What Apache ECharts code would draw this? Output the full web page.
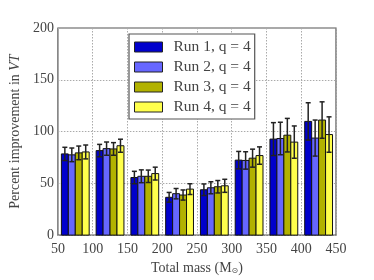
<!DOCTYPE html>
<html>
<head>
<meta charset="utf-8">
<script src="https://cdn.jsdelivr.net/npm/echarts@6/dist/echarts.min.js"></script>
<style>html,body{margin:0;padding:0;background:#fff}#c{width:374px;height:280px}</style>
</head>
<body>
<div id="c"></div>
<script>
var groupCenters = [75, 125, 175, 225, 275, 325, 375, 425];
var seriesNames = ['Run 1, q = 4', 'Run 2, q = 4', 'Run 3, q = 4', 'Run 4, q = 4'];
var colors = ['#0000cc', '#6666ff', '#b2b200', '#ffff4c'];
var barOffsets = [-15, -5, 5, 15];
var barWidthUnits = 10;
var run1 = [78.4, 81.6, 55.6, 36.5, 43.8, 72.4, 92.7, 109.8];
var run2 = [77.5, 83.5, 56.8, 40.0, 45.7, 72.1, 93.3, 93.7];
var run3 = [79.4, 83.2, 56.8, 38.7, 46.7, 74.3, 96.5, 111.1];
var run4 = [80.3, 86.3, 59.4, 44.4, 47.6, 76.8, 89.8, 97.1];
var err1 = [6.4, 6.0, 6.0, 4.7, 5.6, 8.4, 15.9, 18.0];
var err2 = [6.6, 6.4, 6.2, 5.0, 5.8, 8.4, 15.7, 17.4];
var err3 = [6.6, 6.1, 6.0, 4.9, 6.0, 8.7, 16.2, 17.6];
var err4 = [6.7, 6.3, 6.2, 5.2, 6.3, 8.4, 15.6, 17.1];
var xTicks = [50, 100, 150, 200, 250, 300, 350, 400, 450];
var yTicks = [0, 50, 100, 150, 200];

var runs = [run1, run2, run3, run4];
var errs = [err1, err2, err3, err4];
var font = '"Liberation Serif", "DejaVu Serif", serif';
var textColor = '#444';

function makeSeries(k) {
  var data = groupCenters.map(function (c, i) {
    return [c + barOffsets[k], runs[k][i], errs[k][i]];
  });
  return {
    name: seriesNames[k],
    type: 'custom',
    itemStyle: { color: colors[k], borderColor: '#111', borderWidth: 1 },
    data: data,
    renderItem: function (params, api) {
      var x = api.value(0), y = api.value(1), e = api.value(2);
      var p0 = api.coord([x - barWidthUnits / 2, 0]);
      var p1 = api.coord([x + barWidthUnits / 2, y]);
      var pt = api.coord([x, y + e]);
      var pb = api.coord([x, y - e]);
      var cap = 2.5;
      return {
        type: 'group',
        children: [
          { type: 'rect', shape: { x: p0[0], y: p1[1], width: p1[0] - p0[0], height: p0[1] - p1[1] },
            style: { fill: colors[k], stroke: '#111', lineWidth: 1 } },
          { type: 'line', shape: { x1: pt[0], y1: pt[1], x2: pb[0], y2: pb[1] }, style: { stroke: '#222', lineWidth: 1.5 } },
          { type: 'line', shape: { x1: pt[0] - cap, y1: pt[1], x2: pt[0] + cap, y2: pt[1] }, style: { stroke: '#222', lineWidth: 1.5 } },
          { type: 'line', shape: { x1: pb[0] - cap, y1: pb[1], x2: pb[0] + cap, y2: pb[1] }, style: { stroke: '#222', lineWidth: 1.5 } }
        ]
      };
    }
  };
}

var chart = echarts.init(document.getElementById('c'), null, { renderer: 'canvas' });
chart.setOption({
  animation: false,
  backgroundColor: '#fff',
  grid: { left: 47, right: 38, top: 28, bottom: 42, show: true, borderColor: '#555', borderWidth: 1.2, backgroundColor: 'transparent' },
  legend: {
    data: seriesNames.map(function (n, k) { return { name: n, itemStyle: { color: colors[k], borderColor: '#222', borderWidth: 1 } }; }),
    orient: 'vertical', left: 129, top: 34,
    itemWidth: 28, itemHeight: 10, itemGap: 4, icon: 'rect',
    padding: [5, 4, 4, 5],
    backgroundColor: '#fff', borderColor: '#555', borderWidth: 1.2,
    textStyle: { fontFamily: font, fontSize: 15.5, color: textColor, padding: [0, 0, 0, 6] }
  },
  xAxis: {
    type: 'value', min: xTicks[0], max: xTicks[xTicks.length - 1], interval: 50,
    axisLine: { show: false }, axisTick: { show: false },
    splitLine: { show: true, lineStyle: { color: '#aaa', type: [1.5, 1.5], width: 1 } },
    axisLabel: { fontFamily: font, fontSize: 14, color: textColor, margin: 7 },
    name: 'Total mass (M{sub|⊙})', nameLocation: 'middle', nameGap: 17,
    nameTextStyle: { fontFamily: font, fontSize: 14, color: textColor,
      rich: { sub: { fontFamily: '"DejaVu Sans", sans-serif', fontSize: 8, color: textColor, padding: [6, 0, 0, 0] } } }
  },
  yAxis: {
    type: 'value', min: yTicks[0], max: yTicks[yTicks.length - 1], interval: 50,
    axisLine: { show: false }, axisTick: { show: false },
    splitLine: { show: true, lineStyle: { color: '#aaa', type: [1.5, 1.5], width: 1 } },
    axisLabel: { fontFamily: font, fontSize: 14, color: textColor, margin: 4 },
    name: 'Percent improvement in {it|VT}', nameLocation: 'middle', nameGap: 30, nameRotate: 90,
    nameTextStyle: { fontFamily: font, fontSize: 14, color: textColor,
      rich: { it: { fontFamily: font, fontStyle: 'italic', fontSize: 14, color: textColor } } }
  },
  series: [0, 1, 2, 3].map(makeSeries)
});
</script>
</body>
</html>
